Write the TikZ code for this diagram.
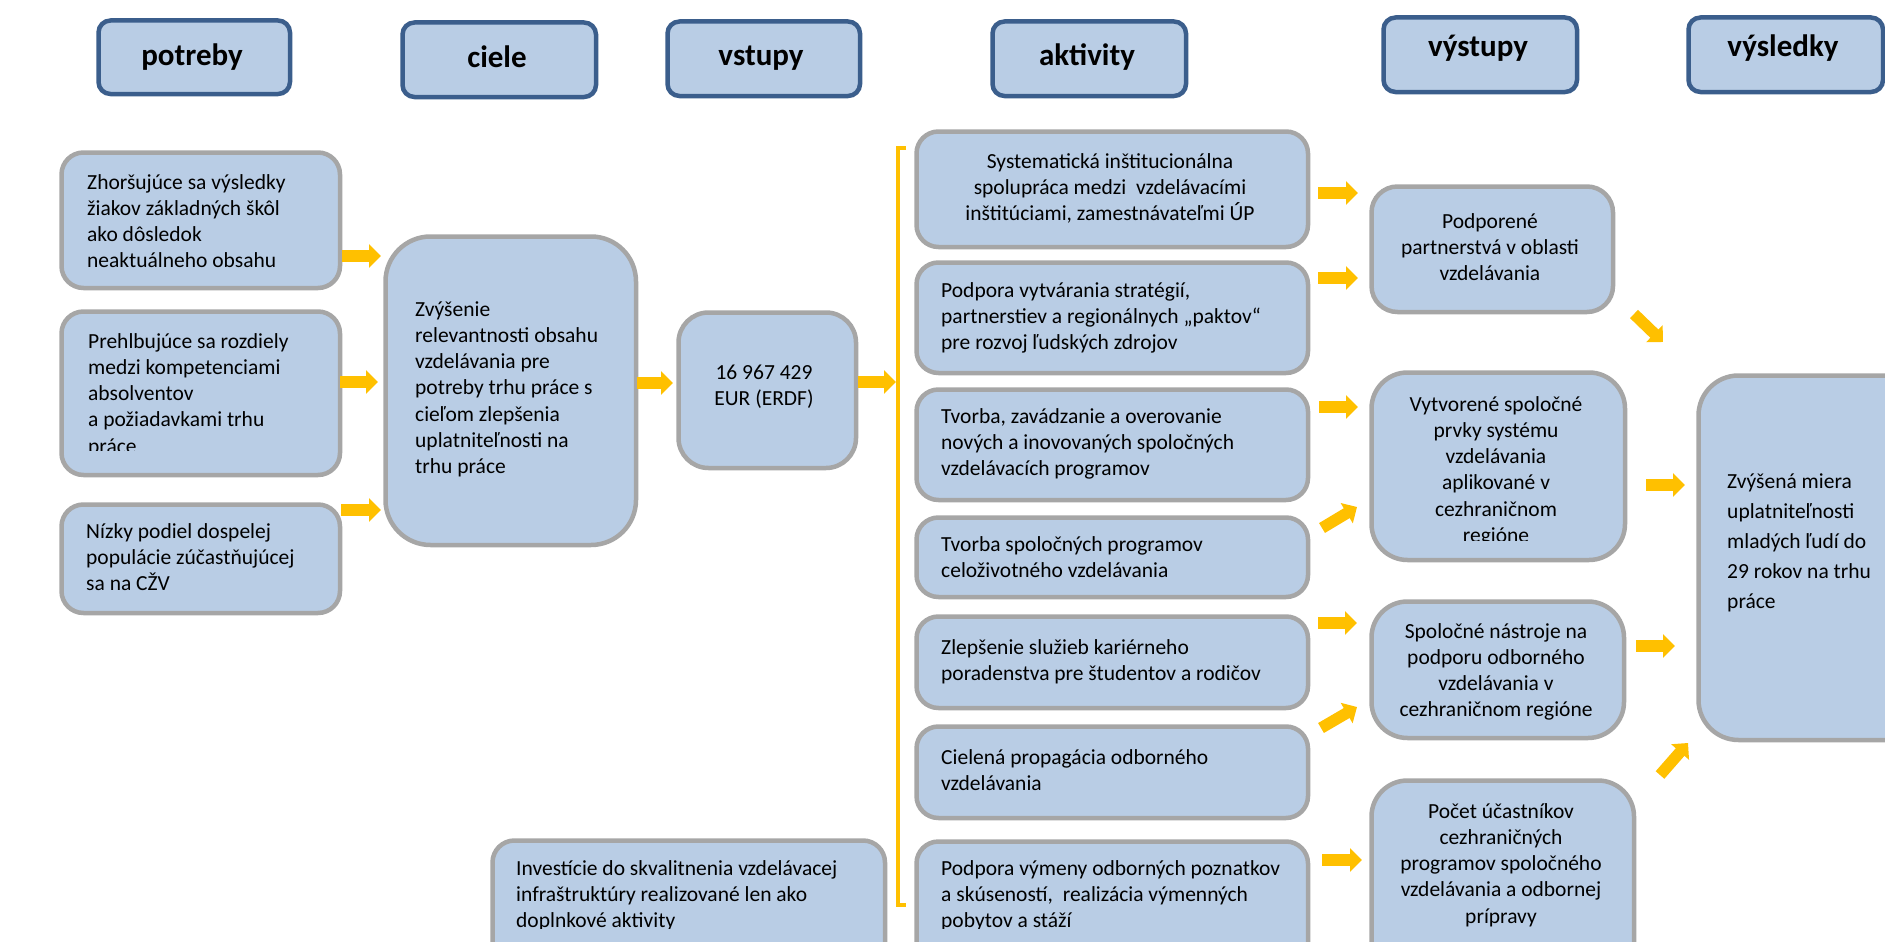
\documentclass[tikz,border=0pt]{standalone}
\usepackage{fontspec}
\setmainfont{Carlito}
\usetikzlibrary{arrows.meta}
\definecolor{boxfill}{HTML}{B9CDE5}
\definecolor{boxgray}{HTML}{A6A6A6}
\definecolor{hdrblue}{HTML}{3B5E8C}
\definecolor{arrowgold}{HTML}{FFC000}
\newcommand{\mystrut}{\rule{0pt}{20pt}}
\newcommand{\pbox}[6]{\node[#1, anchor=north west, minimum width={(#5)-(#3)-4.5}, minimum height={(#6)-(#4)-4.5}] (#2) at ({#3+2.25},{#4+2.25}) {};}
\newcommand{\garrow}[4]{\draw[goldarrow] (#1,#2) -- (#3,#4);}
\tikzset{
 hdrbox/.style={draw=hdrblue, fill=boxfill, line width=4.5pt, rounded corners=12pt, inner sep=0pt},
 cbox/.style={draw=boxgray, fill=boxfill, line width=4.5pt, rounded corners=#1, inner sep=0pt},
 cbox/.default=22pt,
 hdrtext/.style={font=\fontsize{31}{36}\selectfont\bfseries, inner sep=0pt, anchor=base},
 bodyl/.style={font=\fontsize{21.5}{26.2}\selectfont, align=left, inner sep=0pt, anchor=north west},
 bodyc/.style={font=\fontsize{21.5}{26.2}\selectfont, align=center, inner sep=0pt, anchor=north},
 goldarrow/.style={draw=arrowgold, line width=11.5pt, -{Triangle[length=12pt,width=23pt]}},
 bracketline/.style={draw=arrowgold, line width=4pt}
}
\begin{document}
\begin{tikzpicture}[x=1pt,y=-1pt]
\clip (0,0) rectangle (1885,942);
\fill[white] (0,0) rectangle (1885,942);

% headers
\pbox{hdrbox}{h1}{94}{16}{290}{94}
\pbox{hdrbox}{h2}{398}{18}{596}{97}
\pbox{hdrbox}{h3}{663}{17}{860}{96}
\pbox{hdrbox}{h4}{988}{17}{1186}{96}
\pbox{hdrbox}{h5}{1379}{13}{1577}{92}
\pbox{hdrbox}{h6}{1684}{13}{1883}{92}
\node[hdrtext] (h1t) at (192,66) {potreby};
\node[hdrtext] (h2t) at (497,67) {ciele};
\node[hdrtext] (h3t) at (761,66) {vstupy};
\node[hdrtext] (h4t) at (1087,66) {aktivity};
\node[hdrtext] (h5t) at (1478,57) {výstupy};
\node[hdrtext] (h6t) at (1783,57) {výsledky};

% needs
\pbox{cbox}{n1}{57}{148}{340}{288}
\pbox{cbox}{n2}{57}{307}{340}{475}
\pbox{cbox}{n3}{57}{500}{340}{613}
\node[bodyl] (n1t) at (87,169) {\mystrut Zhoršujúce sa výsledky\\žiakov základných škôl\\ako dôsledok\\neaktuálneho obsahu};
\begin{scope}
\clip (50,300) rectangle (350,450);
\node[bodyl] (n2t) at (88,328) {\mystrut Prehlbujúce sa rozdiely\\medzi kompetenciami\\absolventov\\a požiadavkami trhu\\práce};
\end{scope}
\node[bodyl] (n3t) at (86,518) {\mystrut Nízky podiel dospelej\\populácie zúčastňujúcej\\sa na CŽV};

% goal
\pbox{cbox=45pt}{c1}{381}{232}{636}{545}
\node[bodyl] (c1t) at (415,296) {\mystrut Zvýšenie\\relevantnosti obsahu\\vzdelávania pre\\potreby trhu práce s\\cieľom zlepšenia\\uplatniteľnosti na\\trhu práce};

% input
\pbox{cbox=30pt}{v1}{674}{308}{856}{468}
\node[bodyc] (v1t) at (764,359) {\mystrut 16 967 429\\EUR (ERDF)};

% activities
\pbox{cbox}{a1}{912}{127}{1308}{247}
\pbox{cbox}{a2}{912}{258}{1308}{373}
\pbox{cbox}{a3}{912}{385}{1308}{500}
\pbox{cbox}{a4}{912}{513}{1308}{597}
\pbox{cbox}{a5}{912}{612}{1308}{708}
\pbox{cbox}{a6}{912}{722}{1308}{818}
\pbox{cbox}{a7}{912}{837}{1308}{1000}
\pbox{cbox}{inv}{488}{836}{885}{1000}
\node[bodyc] (a1t) at (1110,148) {\mystrut Systematická inštitucionálna\\spolupráca medzi\ \ vzdelávacími\\inštitúciami, zamestnávateľmi ÚP};
\node[bodyl] (a2t) at (941,277) {\mystrut Podpora vytvárania stratégií,\\partnerstiev a regionálnych „paktov“\\pre rozvoj ľudských zdrojov};
\node[bodyl] (a3t) at (941,403) {\mystrut Tvorba, zavádzanie a overovanie\\nových a inovovaných spoločných\\vzdelávacích programov};
\node[bodyl] (a4t) at (941,531) {\mystrut Tvorba spoločných programov\\celoživotného vzdelávania};
\node[bodyl] (a5t) at (941,634) {\mystrut Zlepšenie služieb kariérneho\\poradenstva pre študentov a rodičov};
\node[bodyl] (a6t) at (941,744) {\mystrut Cielená propagácia odborného\\vzdelávania};
\begin{scope}
\clip (480,830) rectangle (1320,928);
\node[bodyl] (a7t) at (941,855) {\mystrut Podpora výmeny odborných poznatkov\\a skúseností,\ \ realizácia výmenných\\pobytov a stáží};
\node[bodyl] (invt) at (516,855) {\mystrut Investície do skvalitnenia vzdelávacej\\infraštruktúry realizované len ako\\doplnkové aktivity};
\end{scope}

% outputs
\pbox{cbox=26pt}{o1}{1367}{182}{1613}{312}
\pbox{cbox=36pt}{o2}{1367}{368}{1625}{560}
\pbox{cbox=36pt}{o3}{1367}{597}{1624}{738}
\pbox{cbox=36pt}{o4}{1367}{776}{1634}{1000}
\node[bodyc] (o1t) at (1490,208) {\mystrut Podporené\\partnerstvá v oblasti\\vzdelávania};
\begin{scope}
\clip (1360,360) rectangle (1640,540);
\node[bodyc] (o2t) at (1496,391) {\mystrut Vytvorené spoločné\\prvky systému\\vzdelávania\\aplikované v\\cezhraničnom\\regióne};
\end{scope}
\node[bodyc] (o3t) at (1496,618) {\mystrut Spoločné nástroje na\\podporu odborného\\vzdelávania v\\cezhraničnom regióne};
\node[bodyc] (o4t) at (1501,798) {\mystrut Počet účastníkov\\cezhraničných\\programov spoločného\\vzdelávania a odbornej\\prípravy};

% result
\pbox{cbox=40pt}{r1}{1694}{371}{1930}{740}
\node[bodyl, font=\fontsize{21.5}{30}\selectfont] (r1t) at (1727,468) {\mystrut Zvýšená miera\\uplatniteľnosti\\mladých ľudí do\\29 rokov na trhu\\práce};

% bracket
\draw[bracketline] (906,148) -- (898,148) -- (898,905) -- (906,905);

% arrows
\garrow{342}{256}{381}{256}
\garrow{340}{382}{378}{382}
\garrow{341}{510}{381}{510}
\garrow{637}{383}{673}{383}
\garrow{858}{382}{896}{382}
\garrow{1318}{193}{1358}{193}
\garrow{1318}{278}{1358}{278}
\garrow{1319}{407}{1358}{407}
\garrow{1322}{528}{1357}{507}
\garrow{1318}{623}{1357}{623}
\garrow{1321}{728}{1357}{707}
\garrow{1322}{860}{1362}{860}
\garrow{1634}{314}{1663}{342}
\garrow{1646}{485}{1685}{485}
\garrow{1636}{646}{1675}{646}
\garrow{1660}{775}{1688}{743}
\end{tikzpicture}
\end{document}
